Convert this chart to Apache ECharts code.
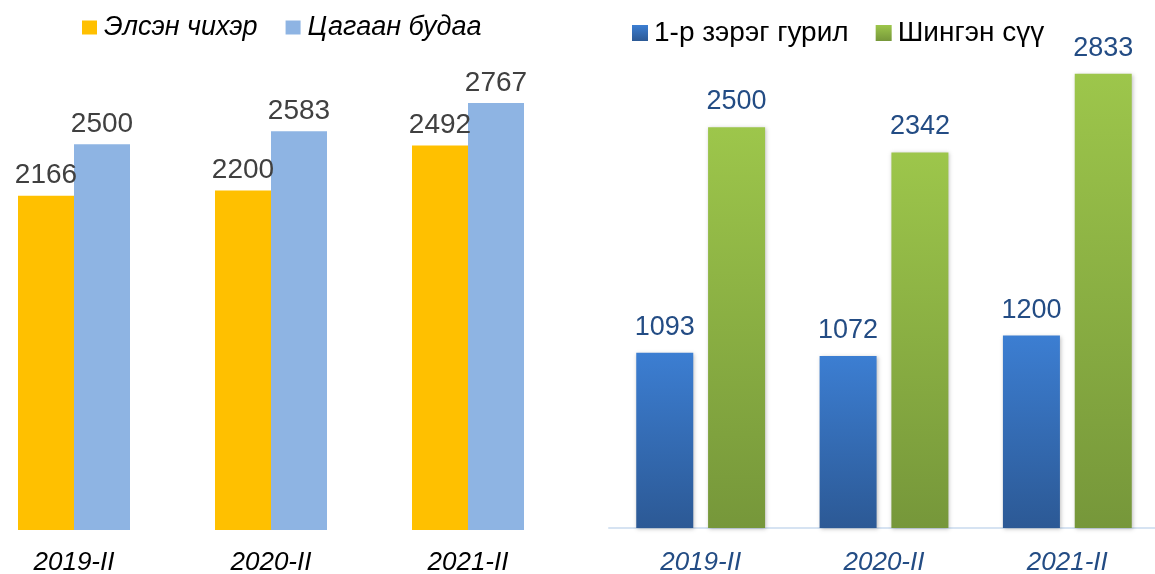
<!DOCTYPE html>
<html>
<head>
<meta charset="utf-8">
<script src="https://cdn.jsdelivr.net/npm/echarts@6/dist/echarts.min.js"></script>
<style>
  html, body { margin: 0; padding: 0; background: #fff; }
  #main { width: 1155px; height: 574px; }
</style>
</head>
<body>
<div id="main"></div>
<script>
// left chart
const leftCats = ['2019-II', '2020-II', '2021-II']
const leftNames = ['Элсэн чихэр', 'Цагаан будаа']
const sugar = [2166, 2200, 2492]
const rice = [2500, 2583, 2767]

// right chart
const rightCats = ['2019-II', '2020-II', '2021-II']
const rightNames = ['1-р зэрэг гурил', 'Шингэн сүү']
const flour = [1093, 1072, 1200]
const milk = [2500, 2342, 2833]

const font = 'Liberation Sans, Arial, sans-serif'
const navy = '#234c84'

var myChart = echarts.init(document.getElementById('main'))

function grad(top, bottom) {
  return new echarts.graphic.LinearGradient(0, 0, 0, 1, [
    { offset: 0, color: top },
    { offset: 1, color: bottom },
  ])
}

let option = {
  backgroundColor: '#fff',
  animation: false,
  legend: [
    {
      left: 77,
      top: 9,
      itemWidth: 15,
      itemHeight: 14,
      itemGap: 28,
      icon: 'rect',
      data: leftNames,
      textStyle: { color: '#000', fontSize: 27, fontStyle: 'italic', fontFamily: font, padding: [0, 0, 0, 2] },
    },
    {
      left: 627,
      top: 14,
      itemWidth: 16,
      itemHeight: 16,
      itemGap: 27,
      icon: 'rect',
      data: rightNames,
      textStyle: { color: '#000', fontSize: 28, fontFamily: font, padding: [0, 0, 0, 1] },
    },
  ],
  grid: [
    { left: -24.5, width: 591, top: 67, bottom: 44, outerBoundsMode: 'none', containLabel: false },
    { left: 609, width: 550, top: 47, bottom: 46, outerBoundsMode: 'none', containLabel: false },
  ],
  xAxis: [
    {
      type: 'category',
      gridIndex: 0,
      data: leftCats,
      axisLine: { show: false },
      axisTick: { show: false },
      axisLabel: { margin: 20, color: '#000', fontSize: 26, fontStyle: 'italic', fontFamily: font },
    },
    {
      type: 'category',
      gridIndex: 1,
      data: rightCats,
      axisLine: { show: true, lineStyle: { color: '#d6e3f2', width: 2 } },
      axisTick: { show: false },
      axisLabel: { margin: 22, color: navy, fontSize: 26, fontStyle: 'italic', fontFamily: font },
    },
  ],
  yAxis: [
    { type: 'value', gridIndex: 0, min: 0, max: 3000, show: false, splitLine: { show: false } },
    { type: 'value', gridIndex: 1, min: 0, max: 3000, show: false, splitLine: { show: false } },
  ],
  series: [
    {
      name: leftNames[0],
      type: 'bar',
      xAxisIndex: 0,
      yAxisIndex: 0,
      data: sugar,
      barWidth: 56,
      barGap: '0%',
      itemStyle: { color: '#ffc000' },
      label: { show: true, position: 'top', distance: 6, color: '#404040', fontSize: 28, fontFamily: font },
    },
    {
      name: leftNames[1],
      type: 'bar',
      xAxisIndex: 0,
      yAxisIndex: 0,
      data: rice,
      barWidth: 56,
      barGap: '0%',
      itemStyle: { color: '#8eb4e3' },
      label: { show: true, position: 'top', distance: 6, color: '#404040', fontSize: 28, fontFamily: font },
    },
    {
      name: rightNames[0],
      type: 'bar',
      xAxisIndex: 1,
      yAxisIndex: 1,
      data: flour,
      barWidth: 57,
      barGap: '26%',
      itemStyle: {
        color: grad('#3c7ed2', '#2c5995'),
        shadowColor: 'rgba(0,0,0,0.25)',
        shadowBlur: 4,
        shadowOffsetX: 1,
        shadowOffsetY: 1,
      },
      label: { show: true, position: 'top', distance: 12, color: navy, fontSize: 27, fontFamily: font },
    },
    {
      name: rightNames[1],
      type: 'bar',
      xAxisIndex: 1,
      yAxisIndex: 1,
      data: milk,
      barWidth: 57,
      barGap: '26%',
      itemStyle: {
        color: grad('#9dc64b', '#76973a'),
        shadowColor: 'rgba(0,0,0,0.25)',
        shadowBlur: 4,
        shadowOffsetX: 1,
        shadowOffsetY: 1,
      },
      label: { show: true, position: 'top', distance: 12, color: navy, fontSize: 27, fontFamily: font },
    },
  ],
}

myChart.setOption(option)
</script>
</body>
</html>
